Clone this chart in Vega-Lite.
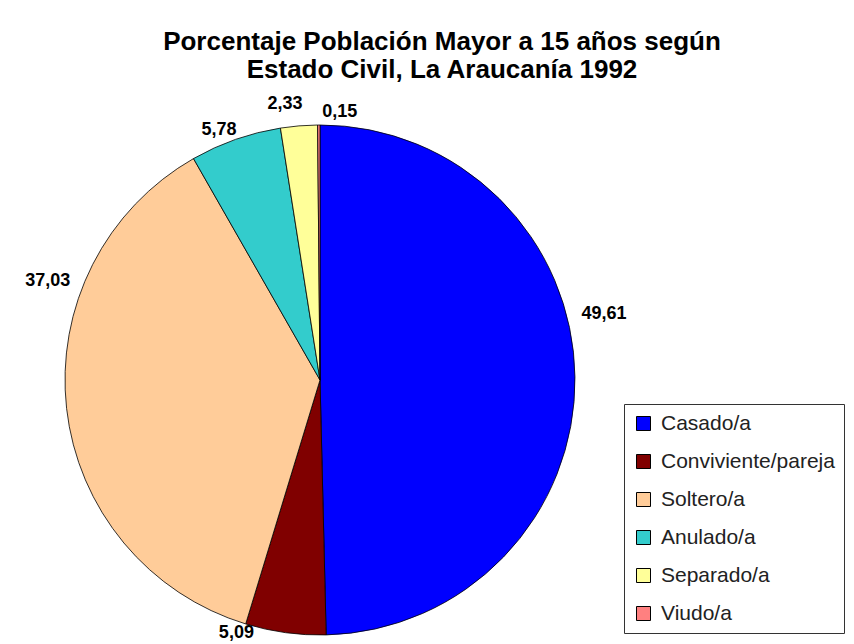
{
  "$schema": "https://vega.github.io/schema/vega-lite/v6.json",
  "width": 510,
  "height": 510,
  "autosize": {"type": "none"},
  "padding": {"left": 65, "top": 125, "right": 279, "bottom": 9},
  "background": "white",
  "title": {
    "text": ["Porcentaje Población Mayor a 15 años según", "Estado Civil, La Araucanía 1992"],
    "font": "Liberation Sans",
    "fontSize": 26,
    "fontWeight": "bold",
    "color": "#000000",
    "anchor": "middle",
    "frame": "group",
    "dx": 122,
    "offset": 12,
    "lineHeight": 28
  },
  "data": {
    "values": [
      {"estado": "Casado/a", "pct": 49.61, "label": "49,61", "orden": 1},
      {"estado": "Conviviente/pareja", "pct": 5.09, "label": "5,09", "orden": 2},
      {"estado": "Soltero/a", "pct": 37.03, "label": "37,03", "orden": 3},
      {"estado": "Anulado/a", "pct": 5.78, "label": "5,78", "orden": 4},
      {"estado": "Separado/a", "pct": 2.33, "label": "2,33", "orden": 5},
      {"estado": "Viudo/a", "pct": 0.15, "label": "0,15", "orden": 6}
    ]
  },
  "encoding": {
    "theta": {"field": "pct", "type": "quantitative", "stack": true},
    "order": {"field": "orden", "type": "quantitative"}
  },
  "layer": [
    {
      "mark": {"type": "arc", "outerRadius": 255, "stroke": "#000000", "strokeWidth": 0.8},
      "encoding": {
        "color": {
          "field": "estado",
          "type": "nominal",
          "scale": {
            "domain": ["Casado/a", "Conviviente/pareja", "Soltero/a", "Anulado/a", "Separado/a", "Viudo/a"],
            "range": ["#0000FF", "#800000", "#FFCC99", "#33CCCC", "#FFFF99", "#FF8080"]
          },
          "legend": {
            "orient": "none",
            "legendX": 559,
            "legendY": 279,
            "title": null,
            "strokeColor": "#333333",
            "fillColor": "#FFFFFF",
            "padding": 9,
            "symbolType": "square",
            "symbolSize": 196,
            "symbolOpacity": 1,
            "symbolStrokeColor": "#000000",
            "symbolStrokeWidth": 1,
            "labelFont": "Liberation Sans",
            "labelFontSize": 21,
            "labelColor": "#222222",
            "labelOffset": 7,
            "rowPadding": 16,
            "labelLimit": 300
          }
        }
      }
    },
    {
      "mark": {
        "type": "text",
        "radius": 278,
        "font": "Liberation Sans",
        "fontSize": 18,
        "fontWeight": "bold",
        "dx": {"expr": "datum.orden == 1 ? 6 : datum.orden == 2 ? -46 : datum.orden == 3 ? 4 : datum.orden == 4 ? -9 : datum.orden == 5 ? -12 : 21"},
        "dy": {"expr": "datum.orden == 1 ? -63 : datum.orden == 2 ? -22 : datum.orden == 3 ? -130 : datum.orden == 4 ? 12 : datum.orden == 5 ? 1 : 10"}
      },
      "encoding": {
        "text": {"field": "label", "type": "nominal"},
        "detail": {"field": "estado", "type": "nominal"},
        "color": {"value": "#000000"}
      }
    }
  ]
}
